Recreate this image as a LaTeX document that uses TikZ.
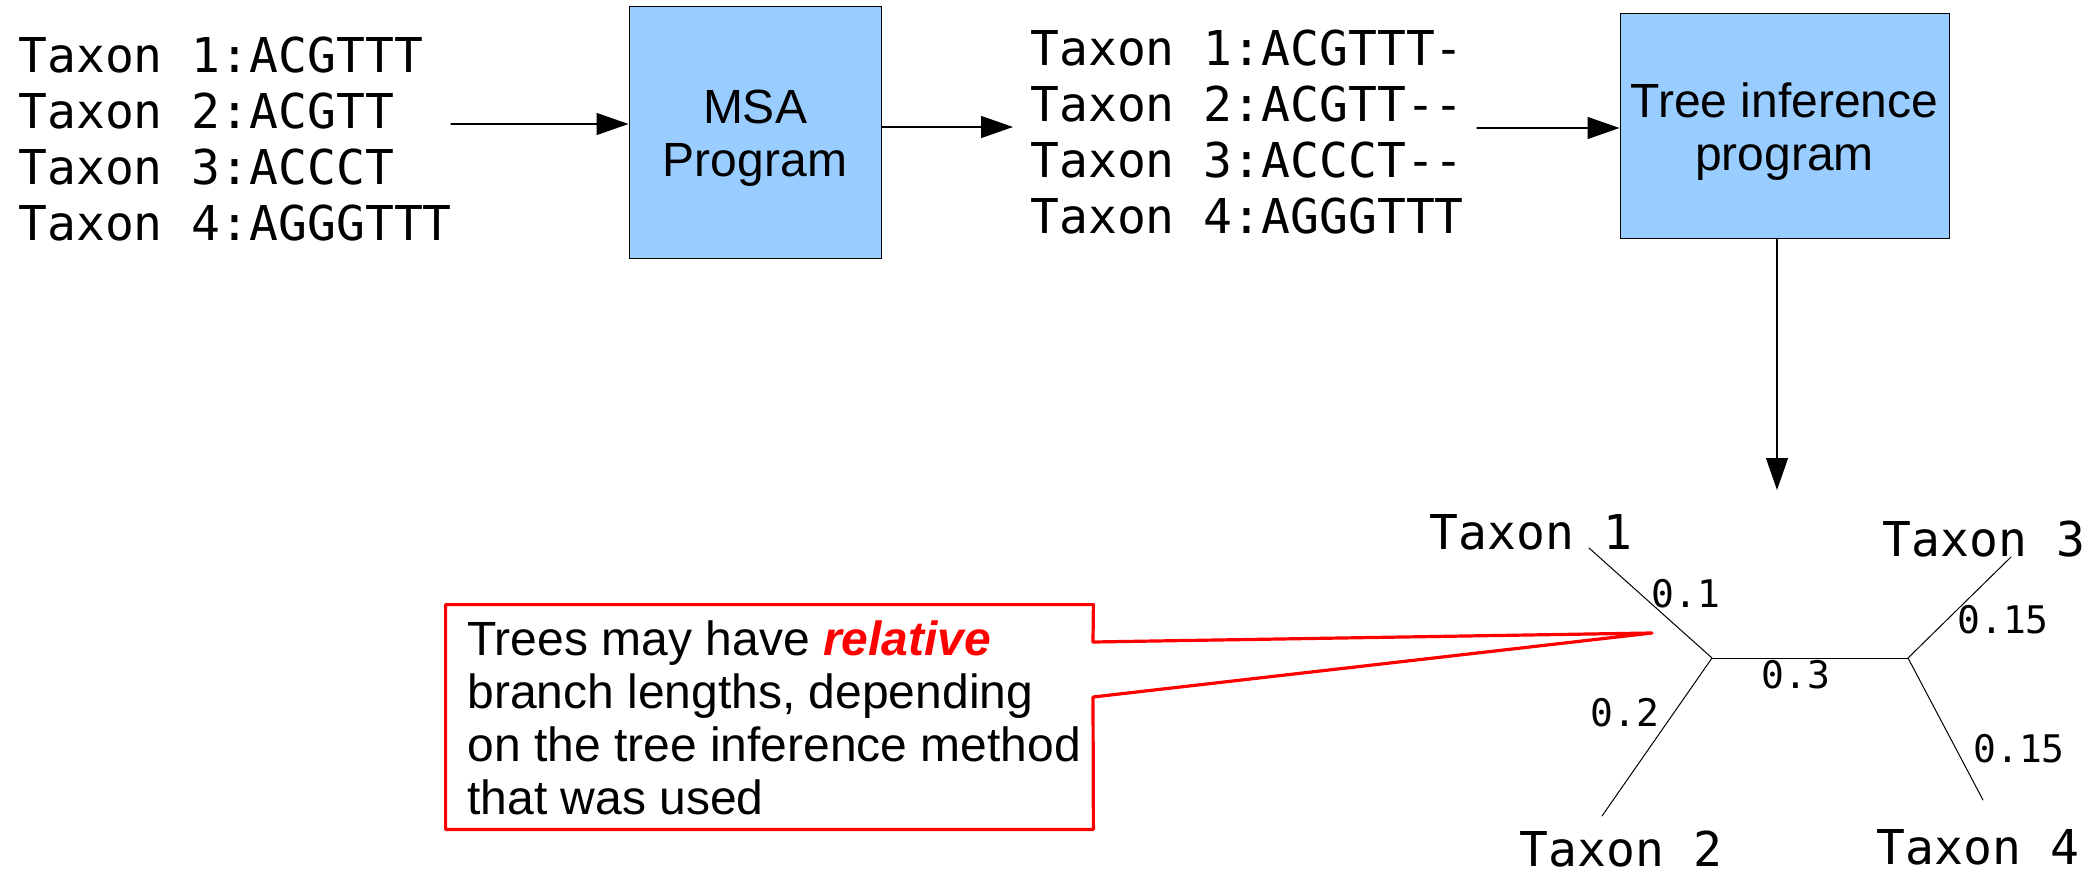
\documentclass[tikz,border=0pt]{standalone}
\usepackage{fontspec}
\setmainfont{Liberation Sans}
\newfontfamily\seqfont{DejaVu Sans Mono}
\usetikzlibrary{arrows.meta}

\definecolor{progblue}{HTML}{99CCFF}
\definecolor{notered}{HTML}{FF0000}

\tikzset{
  seq/.style={inner sep=0pt,font=\seqfont\fontsize{24}{28}\selectfont},
  blen/.style={inner sep=0pt,font=\seqfont\fontsize{19}{22}\selectfont},
  prog/.style={draw,line width=0.5pt,fill=progblue,align=center,inner sep=0pt,text depth=0pt,font=\fontsize{24}{26.5}\selectfont},
  flow/.style={->,line width=0.6pt},
  branch/.style={line width=0.5pt},
  callout/.style={draw=notered,line width=1.6pt,line join=round},
}

\begin{document}
\begin{tikzpicture}[x=0.5pt,y=-0.5pt,>={Triangle[length=16pt,width=11pt]},line cap=round]
\useasboundingbox (0,0) rectangle (2093,877);
% unaligned input
\foreach \i/\s in {1/ACGTTT,2/ACGTT,3/ACCCT,4/AGGGTTT}
  \node[seq,anchor=base west] (raw\i) at (18,17+56*\i) {Taxon \i:\s};
% alignment
\foreach \i/\s in {1/ACGTTT-,2/ACGTT-{}-,3/ACCCT-{}-,4/AGGGTTT}
  \node[seq,anchor=base west] (aln\i) at (1030,10+56*\i) {Taxon \i:\s};
\node[prog,minimum width=126pt,minimum height=126pt] (msa) at (755,133) {MSA\\Program};
\node[prog,minimum width=164.5pt,minimum height=112.5pt] (tree) at (1784.5,126.5) {Tree inference\\program};
\coordinate (r1) at (451,124);
\coordinate (m1) at (1013,127);
\coordinate (a1) at (1477,128);
\coordinate (treein) at (1777,490);
\draw[flow] (r1) -- (r1 -| msa.west);
\draw[flow] (msa.east |- m1) -- (m1);
\draw[flow] (a1) -- (a1 -| tree.west);
\draw[flow] (tree.south -| treein) -- (treein);
% the tree
\coordinate (u) at (1712,658);
\coordinate (v) at (1908,658);
\coordinate (l1) at (1589,548);
\coordinate (l2) at (1602,816);
\coordinate (l3) at (2011,557);
\coordinate (l4) at (1983,800);
\draw[branch] (l1) -- (u) -- (l2);
\draw[branch] (u) -- (v);
\draw[branch] (l3) -- (v) -- (l4);
\node[seq,anchor=base] (tx1) at (1531,549) {Taxon 1};
\node[seq,anchor=base] (tx2) at (1621,866) {Taxon 2};
\node[seq,anchor=base] (tx3) at (1984,556) {Taxon 3};
\node[seq,anchor=base] (tx4) at (1978,864) {Taxon 4};
\node[blen,anchor=base] (bl1) at (1686,607) {0.1};
\node[blen,anchor=base] (bl2) at (1625,726) {0.2};
\node[blen,anchor=base] (bl3) at (1796,688) {0.3};
\node[blen,anchor=base] (bl4) at (2003,633) {0.15};
\node[blen,anchor=base] (bl5) at (2019,762) {0.15};
% note
\node[minimum width=323.5pt,minimum height=112pt,inner sep=0pt] (note) at (769.5,717) {};
\node[anchor=north west,align=left,inner sep=0pt,font=\fontsize{24}{26.5}\selectfont] (notetext) at (467,620) {Trees may have \textcolor{notered}{\textbf{\textit{relative}}}\\branch lengths, depending\\on the tree inference method\\that was used};
\coordinate (p1) at (1093,642);
\coordinate (p2) at (1093,697);
\coordinate (tip) at (1652,633);
\draw[callout] (note.north west) -- (note.north east) -- (p1) -- (tip) -- (p2) -- (note.south east) -- (note.south west) -- cycle;
\end{tikzpicture}
\end{document}
